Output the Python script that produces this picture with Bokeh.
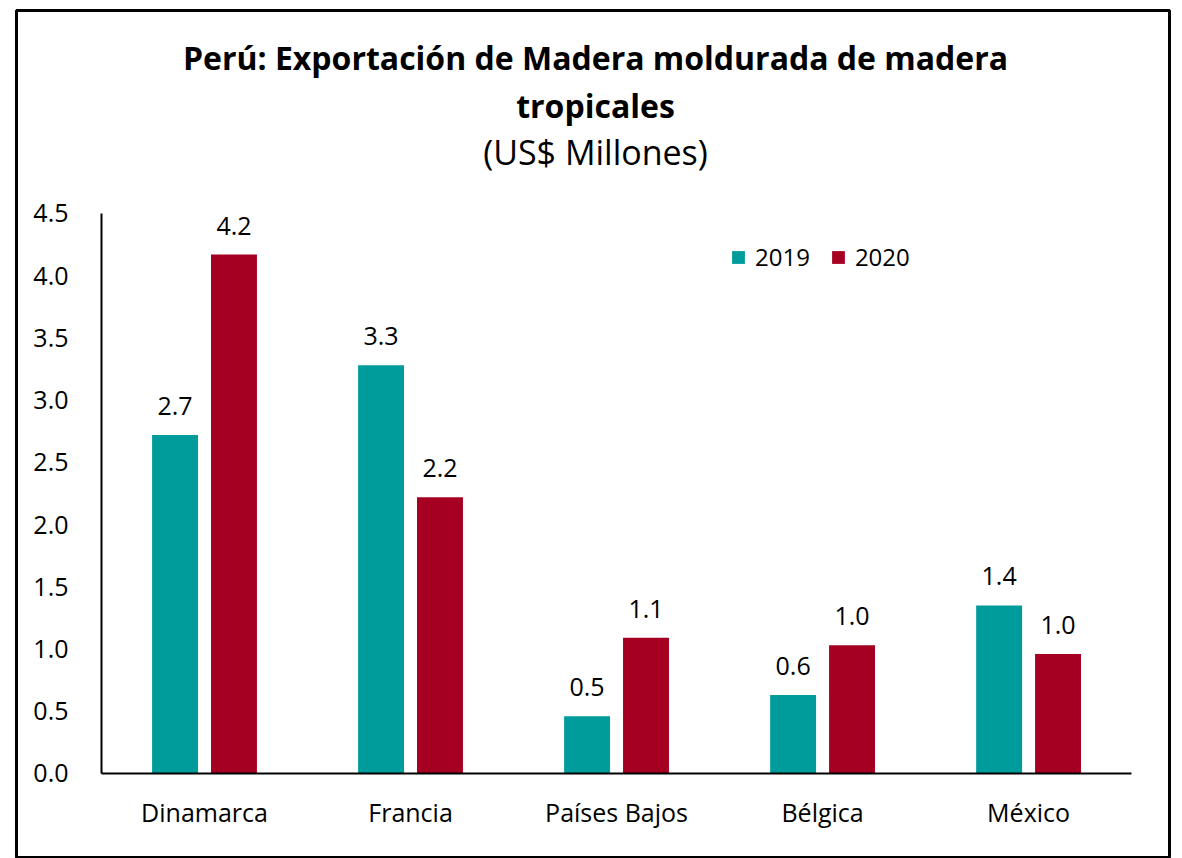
from bokeh.plotting import figure
from bokeh.models import (ColumnDataSource, Range1d, LinearAxis, FixedTicker,
                          LabelSet, Label, PrintfTickFormatter)
from bokeh.core.properties import value
from bokeh.transform import dodge
from bokeh.embed import file_html
from bokeh.resources import INLINE

# ---- data ----
categories = ["Dinamarca", "Francia", "Países Bajos", "Bélgica", "México"]
series_names = ["2019", "2020"]
values_2019 = [2.72, 3.28, 0.46, 0.63, 1.35]
values_2020 = [4.17, 2.22, 1.09, 1.03, 0.96]
y_ticks = [0.0, 0.5, 1.0, 1.5, 2.0, 2.5, 3.0, 3.5, 4.0, 4.5]
title_line1 = "Perú: Exportación de Madera moldurada de madera"
title_line2 = "tropicales"
subtitle = "(US$ Millones)"

TEAL = "#009B9B"
RED = "#A50021"
FONT = "Open Sans"

idx = list(range(len(categories)))
source = ColumnDataSource(dict(
    x=idx,
    v2019=values_2019,
    v2020=values_2020,
    l2019=[f"{v:.1f}" for v in values_2019],
    l2020=[f"{v:.1f}" for v in values_2020],
))

p = figure(width=1174, height=858,
           x_range=Range1d(-0.9126, 4.684), y_range=Range1d(-0.675, 6.131),
           x_axis_location=None, y_axis_location=None,
           output_backend="svg", toolbar_location=None,
           min_border_left=16, min_border_right=5,
           min_border_top=10, min_border_bottom=1)
p.grid.visible = False
p.background_fill_color = "white"
p.border_fill_color = "white"
p.outline_line_color = "black"
p.outline_line_width = 3

OFF = 0.143
W = 0.223
p.vbar(x=dodge("x", -OFF, range=p.x_range), top="v2019", width=W, source=source,
       fill_color=TEAL, line_color=None, legend_label=series_names[0])
p.vbar(x=dodge("x", OFF, range=p.x_range), top="v2020", width=W, source=source,
       fill_color=RED, line_color=None, legend_label=series_names[1])

for col, lab, off in (("v2019", "l2019", -OFF), ("v2020", "l2020", OFF)):
    p.add_layout(LabelSet(x=dodge("x", off, range=p.x_range), y=col, text=lab,
                          source=source, y_offset=20, text_align="center",
                          text_baseline="alphabetic", text_font=value(FONT),
                          text_font_size=value("25px"), text_color="black"))

# axes
yaxis = LinearAxis(fixed_location=-0.5, bounds=(0, 4.5),
                   ticker=FixedTicker(ticks=y_ticks),
                   formatter=PrintfTickFormatter(format="%.1f"))
yaxis.major_tick_line_color = None
yaxis.minor_tick_line_color = None
yaxis.axis_line_color = "black"
yaxis.axis_line_width = 2
yaxis.major_label_standoff = 27
yaxis.major_label_text_font = FONT
yaxis.major_label_text_font_size = "25px"
yaxis.major_label_text_color = "black"
p.add_layout(yaxis, "left")

xaxis = LinearAxis(fixed_location=0, bounds=(-0.5, len(categories) - 0.5),
                   ticker=FixedTicker(ticks=idx),
                   major_label_overrides={i: c for i, c in enumerate(categories)})
xaxis.major_tick_line_color = None
xaxis.minor_tick_line_color = None
xaxis.axis_line_color = "black"
xaxis.axis_line_width = 2
xaxis.major_label_standoff = 16
xaxis.major_label_text_font = FONT
xaxis.major_label_text_font_size = "25px"
xaxis.major_label_text_color = "black"
p.add_layout(xaxis, "below")

# titles
for txt, y, style, size in ((title_line1, 800, "bold", "32px"),
                            (title_line2, 752, "bold", "32px"),
                            (subtitle, 706, "normal", "34px")):
    p.add_layout(Label(x=579, y=y, x_units="screen", y_units="screen", text=txt,
                       text_align="center", text_baseline="middle",
                       text_font=FONT, text_font_style=style,
                       text_font_size=size, text_color="black"))

# legend
lg = p.legend[0]
lg.location = (714, 584)
lg.orientation = "horizontal"
lg.background_fill_alpha = 0
lg.border_line_color = None
lg.padding = 0
lg.margin = 0
lg.spacing = 20
lg.glyph_width = 16
lg.glyph_height = 16
lg.label_standoff = 9
lg.label_text_font = FONT
lg.label_text_font_size = "24px"
lg.label_text_color = "black"

open("out.html", "w").write(file_html(p, INLINE))
